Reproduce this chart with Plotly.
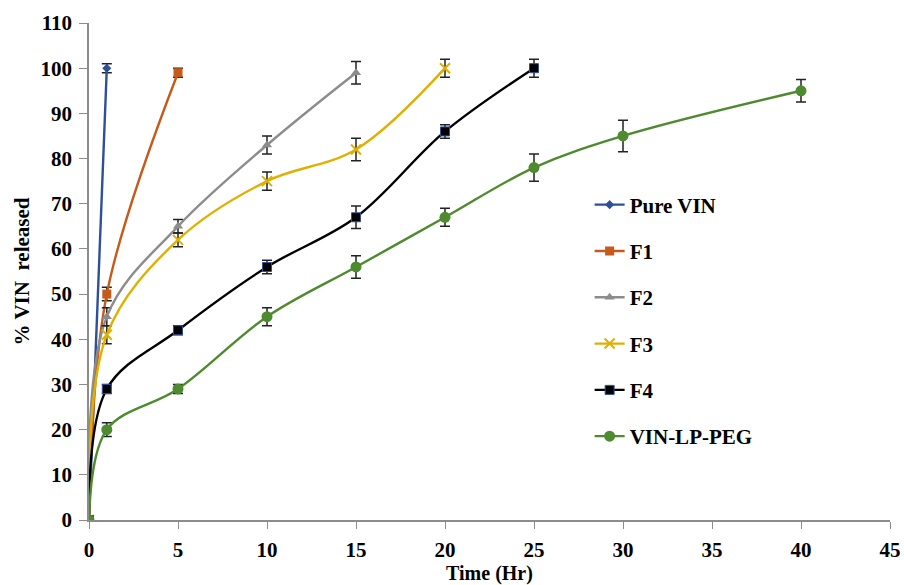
import plotly.graph_objects as go

# Data
names = ["Pure VIN", "F1", "F2", "F3", "F4", "VIN-LP-PEG"]
t_pure = [0, 1]
y_pure = [0, 100]
e_pure = [0, 1]
t_f1 = [0, 1, 5]
y_f1 = [0, 50, 99]
e_f1 = [0, 1.5, 1]
t_f2 = [0, 1, 5, 10, 15]
y_f2 = [0, 45, 65, 83, 99]
e_f2 = [0, 2, 1.5, 2, 2.5]
t_f3 = [0, 1, 5, 10, 15, 20]
y_f3 = [0, 41, 62, 75, 82, 100]
e_f3 = [0, 2, 1.5, 2, 2.5, 2]
t_f4 = [0, 1, 5, 10, 15, 20, 25]
y_f4 = [0, 29, 42, 56, 67, 86, 100]
e_f4 = [0, 1, 1, 1.5, 2.5, 1.5, 2]
t_peg = [0, 1, 5, 10, 15, 20, 25, 30, 40]
y_peg = [0, 20, 29, 45, 56, 67, 78, 85, 95]
e_peg = [0, 1.5, 1, 2, 2.5, 2, 3, 3.5, 2.5]

x_ticks = list(range(0, 50, 5))
y_ticks = list(range(0, 120, 10))

series = [
    (names[0], t_pure, y_pure, e_pure, "#2E4F9A", "diamond", 7),
    (names[1], t_f1, y_f1, e_f1, "#C55A1B", "square", 9),
    (names[2], t_f2, y_f2, e_f2, "#8C8C8C", "triangle-up", 9),
    (names[3], t_f3, y_f3, e_f3, "#E0B000", "x-thin", 10),
    (names[4], t_f4, y_f4, e_f4, "#000000", "square", 9),
    (names[5], t_peg, y_peg, e_peg, "#4E8A2E", "circle", 11),
]

FONT = "Liberation Serif"
fig = go.Figure()
for i, (nm, xs, ys, es, col, sym, sz) in enumerate(series):
    mk = dict(symbol=sym, size=sz, color=col)
    if sym == "x-thin":
        mk["line"] = dict(color=col, width=2)
    elif nm == "F4":
        mk["line"] = dict(color="#2E4F9A", width=1)
    fig.add_trace(go.Scatter(
        x=xs, y=ys, name=nm, mode="lines+markers",
        line=dict(color=col, width=2.4, shape="spline"),
        marker=mk,
        error_y=dict(type="data", array=es, visible=True, color="#222222",
                     thickness=1.5, width=5),
        legendgroup=f"g{i}",
    ))

fig.update_layout(
    width=904, height=585,
    margin=dict(l=89, r=14, t=23, b=65),
    plot_bgcolor="white", paper_bgcolor="white",
    font=dict(family=FONT, color="black", size=21, weight="bold"),
    legend=dict(x=0.625, y=0.675, xanchor="left", yanchor="top",
                bgcolor="rgba(0,0,0,0)", tracegroupgap=16,
                font=dict(family=FONT, size=21, color="black", weight="bold")),
    showlegend=True,
)
fig.update_xaxes(
    range=[0, 45], tickvals=x_ticks, ticktext=[str(v) for v in x_ticks],
    automargin=False,
    showgrid=False, zeroline=False, showline=True, linecolor="#8C8C8C",
    linewidth=1.5, ticks="outside", ticklen=7, tickcolor="#8C8C8C",
    ticklabelstandoff=3,
    tickfont=dict(family=FONT, size=21, color="black", weight="bold"),
    title=dict(text="Time (Hr)", standoff=16,
               font=dict(family=FONT, size=20, color="black", weight="bold")),
)
fig.update_yaxes(
    range=[0, 110], tickvals=y_ticks, ticktext=[str(v) for v in y_ticks],
    automargin=False,
    showgrid=False, zeroline=False, showline=True, linecolor="#8C8C8C",
    linewidth=1.5, ticks="outside", ticklen=8, tickcolor="#8C8C8C",
    ticklabelstandoff=3,
    tickfont=dict(family=FONT, size=21, color="black", weight="bold"),
    title=dict(text="% VIN  released", standoff=5,
               font=dict(family=FONT, size=21, color="black", weight="bold")),
)
fig.write_html("out.html", config={"displayModeBar": False},
               post_script="document.body.style.margin='0';")
